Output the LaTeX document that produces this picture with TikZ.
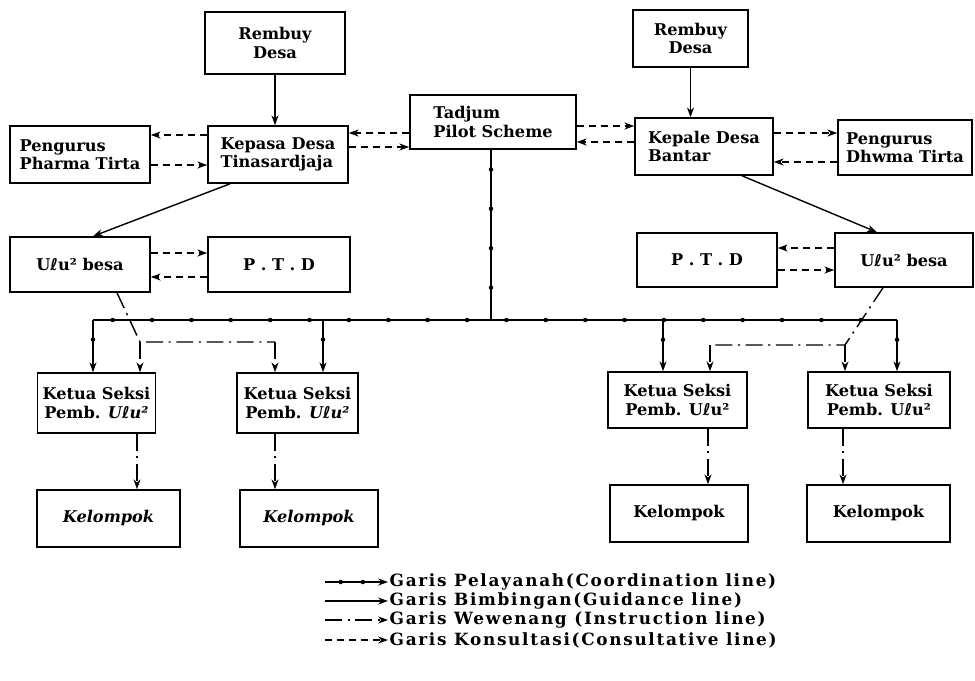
\documentclass[tikz,border=0pt]{standalone}
\usepackage{fontspec}
\setmainfont{DejaVu Serif}
\newfontfamily\ellfont{DejaVu Sans}
\newfontfamily\legfont{DejaVu Serif}[LetterSpace=10]
\usepackage{tikz}
\usetikzlibrary{arrows.meta,decorations.markings}

\newcommand{\ulu}{U{\ellfont ℓ}u²}

\tikzset{
  box/.style={draw, line width=1.1pt, inner sep=1.5pt, font=\fontsize{11.5}{13}\selectfont\bfseries},
  lbox/.style={box, align=left},
  cbox/.style={box, align=center},
  guide/.style={line width=1pt, ->},
  consult/.style={line width=1pt, dash pattern=on 5pt off 3.5pt, ->},
  instr/.style={line width=1pt, dash pattern=on 12pt off 4pt on 1.5pt off 4pt},
  coordline/.style={line width=1pt, postaction={decorate},
    decoration={markings, mark=between positions 14pt and -12pt step 28pt with {\fill (0,0) circle (1.6pt);}}},
  legtext/.style={anchor=west, inner sep=1pt, font=\fontsize{12}{13}\legfont\bfseries}
}

\begin{document}
\begin{tikzpicture}[x=0.025cm, y=-0.025cm, >={Stealth[length=7pt,width=5pt]}]
\useasboundingbox (0,0) rectangle (975,680);

% left village
\node[cbox, minimum width=3.5cm, minimum height=1.55cm] (rembuyL) at (275,43) {Rembuy\\Desa};
\node[lbox, minimum width=3.5cm, minimum height=1.425cm] (pengL) at (80,154.5) {Pengurus\\Pharma Tirta};
\node[lbox, minimum width=3.5cm, minimum height=1.425cm] (kepasa) at (278,154.5) {Kepasa Desa\\Tinasardjaja};
\node[cbox, minimum width=3.5cm, minimum height=1.375cm] (uluL) at (80,264.5) {\ulu\ besa};
\node[cbox, minimum width=3.55cm, minimum height=1.375cm] (ptdL) at (279,264.5) {P . T . D};

% centre
\node[lbox, minimum width=4.15cm, minimum height=1.35cm] (tadjum) at (493,122) {Tadjum\\Pilot Scheme};

% right village
\node[cbox, minimum width=2.875cm, minimum height=1.425cm] (rembuyR) at (690.5,38.5) {Rembuy\\Desa};
\node[lbox, minimum width=3.45cm, minimum height=1.425cm] (kepale) at (704,146.5) {Kepale Desa\\Bantar};
\node[lbox, minimum width=3.35cm, minimum height=1.375cm] (pengR) at (905,147.5) {Pengurus\\Dhwma Tirta};
\node[cbox, minimum width=3.5cm, minimum height=1.35cm] (ptdR) at (707,260) {P . T . D};
\node[cbox, minimum width=3.45cm, minimum height=1.35cm] (uluR) at (904,260) {\ulu\ besa};

% sections and groups
\node[cbox, minimum width=2.95cm, minimum height=1.5cm] (ketL1) at (96.5,403) {Ketua Seksi\\Pemb. \textit{\ulu}};
\node[cbox, minimum width=3.025cm, minimum height=1.5cm] (ketL2) at (297.5,403) {Ketua Seksi\\Pemb. \textit{\ulu}};
\node[cbox, minimum width=3.475cm, minimum height=1.4cm] (ketR1) at (677.5,400) {Ketua Seksi\\Pemb. \ulu};
\node[cbox, minimum width=3.55cm, minimum height=1.4cm] (ketR2) at (879,400) {Ketua Seksi\\Pemb. \ulu};
\node[cbox, minimum width=3.575cm, minimum height=1.425cm] (kelL1) at (108.5,518.5) {\itshape Kelompok};
\node[cbox, minimum width=3.45cm, minimum height=1.425cm] (kelL2) at (309,518.5) {\itshape Kelompok};
\node[cbox, minimum width=3.45cm, minimum height=1.425cm] (kelR1) at (679,513.5) {Kelompok};
\node[cbox, minimum width=3.575cm, minimum height=1.425cm] (kelR2) at (878.5,513.5) {Kelompok};

% guidance
\draw[guide] (rembuyL.south) -- (rembuyL.south |- kepasa.north);
\draw[guide] (rembuyR.south) -- (rembuyR.south |- kepale.north);
\draw[guide] (kepasa.south -| 230,0) -- (uluL.north -| 93,0);
\draw[guide] (kepale.south -| 742,0) -- (uluR.north -| 877,0);

% consultation
\draw[consult] (kepasa.west |- 0,135) -- (pengL.east |- 0,135);
\draw[consult] (pengL.east |- 0,165) -- (kepasa.west |- 0,165);
\draw[consult] (tadjum.west |- 0,133) -- (kepasa.east |- 0,133);
\draw[consult] (kepasa.east |- 0,147) -- (tadjum.west |- 0,147);
\draw[consult] (tadjum.east |- 0,126) -- (kepale.west |- 0,126);
\draw[consult] (kepale.west |- 0,142) -- (tadjum.east |- 0,142);
\draw[consult] (kepale.east |- 0,133) -- (pengR.west |- 0,133);
\draw[consult] (pengR.west |- 0,162) -- (kepale.east |- 0,162);
\draw[consult] (uluL.east |- 0,253) -- (ptdL.west |- 0,253);
\draw[consult] (ptdL.west |- 0,277) -- (uluL.east |- 0,277);
\draw[consult] (uluR.west |- 0,248) -- (ptdR.east |- 0,248);
\draw[consult] (ptdR.east |- 0,270) -- (uluR.west |- 0,270);

% coordination
\coordinate (bus) at (491,320);
\coordinate (busL) at (93,320);
\coordinate (busR) at (897,320);
\coordinate (bus2) at (323,320);
\coordinate (bus3) at (663,320);
\draw[coordline] (tadjum.south -| bus) -- (bus);
\draw[coordline] (busL) -- (busR);
\draw[coordline, ->] (busL) -- (ketL1.north -| busL);
\draw[coordline, ->] (bus2) -- (ketL2.north -| bus2);
\draw[coordline, ->] (bus3) -- (ketR1.north -| bus3);
\draw[coordline, ->] (busR) -- (ketR2.north -| busR);

% instruction
\coordinate (insL) at (140,342);
\coordinate (insL2) at (275,342);
\coordinate (insR) at (845,345);
\coordinate (insR2) at (710,345);
\draw[instr] (uluL.south -| 117,0) -- (insL) -- (insL2);
\draw[instr, ->] (insL) -- (ketL1.north -| insL);
\draw[instr, ->] (insL2) -- (ketL2.north -| insL2);
\draw[instr] (uluR.south -| 883,0) -- (insR) -- (insR2);
\draw[instr, ->] (insR) -- (ketR2.north -| insR);
\draw[instr, ->] (insR2) -- (ketR1.north -| insR2);
\draw[instr, ->] (ketL1.south -| 137,0) -- (kelL1.north -| 137,0);
\draw[instr, ->] (ketL2.south -| 275,0) -- (kelL2.north -| 275,0);
\draw[instr, ->] (ketR1.south -| 708,0) -- (kelR1.north -| 708,0);
\draw[instr, ->] (ketR2.south -| 843,0) -- (kelR2.north -| 843,0);

% legend
\node[legtext] (lg1) at (388,582) {Garis Pelayanah(Coordination line)};
\node[legtext] (lg2) at (388,601) {Garis Bimbingan(Guidance line)};
\node[legtext] (lg3) at (388,620) {Garis Wewenang (Instruction line)};
\node[legtext] (lg4) at (388,640) {Garis Konsultasi(Consultative line)};
\coordinate (s1) at (325,582);
\coordinate (s2) at (325,601);
\coordinate (s3) at (325,620);
\coordinate (s4) at (325,640);
\draw[line width=1pt, ->, postaction={decorate},
  decoration={markings, mark=at position 0.25 with {\fill (0,0) circle (1.6pt);}, mark=at position 0.6 with {\fill (0,0) circle (1.6pt);}}] (s1) -- (lg1.west);
\draw[guide] (s2) -- (lg2.west);
\draw[instr, ->] (s3) -- (lg3.west);
\draw[consult] (s4) -- (lg4.west);
\end{tikzpicture}
\end{document}
